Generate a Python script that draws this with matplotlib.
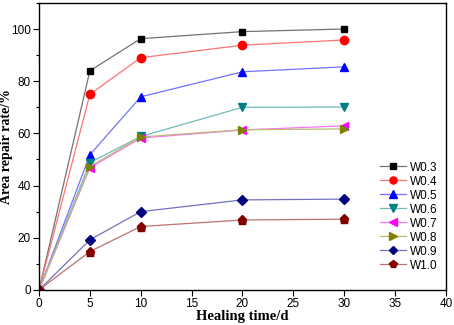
import matplotlib
matplotlib.use("Agg")
import matplotlib.pyplot as plt
from matplotlib.colors import to_rgb
from matplotlib.ticker import MultipleLocator

days = [0, 5, 10, 20, 30]
labels = ["W0.3", "W0.4", "W0.5", "W0.6", "W0.7", "W0.8", "W0.9", "W1.0"]
w03 = [0, 84.0, 96.3, 99.0, 100.0]
w04 = [0, 75.0, 89.0, 93.8, 95.8]
w05 = [0, 51.8, 74.0, 83.6, 85.5]
w06 = [0, 48.8, 58.8, 70.0, 70.1]
w07 = [0, 46.8, 58.2, 61.3, 62.9]
w08 = [0, 47.3, 58.6, 61.4, 61.7]
w09 = [0, 19.2, 30.0, 34.5, 34.8]
w10 = [0, 14.7, 24.3, 26.8, 27.1]
series = [w03, w04, w05, w06, w07, w08, w09, w10]

colors = ["#000000", "#ff0000", "#0000ff", "#008080", "#ff00ff", "#808000", "#000080", "#800000"]
markers = ["s", "o", "^", "v", "<", ">", "D", "p"]
msizes = [5, 6, 6, 6, 6, 6, 5, 6.5]

def light(c, f=0.45):
    r, g, b = to_rgb(c)
    return (r + (1 - r) * f, g + (1 - g) * f, b + (1 - b) * f)

fig = plt.figure(figsize=(4.54, 3.25), dpi=100)
ax = fig.add_axes([0.086, 0.108, 0.896, 0.883])

for y, lab, c, m, ms in zip(series, labels, colors, markers, msizes):
    ax.plot(days, y, color=light(c), lw=0.9, marker=m, ms=ms,
            mfc=c, mec=c, label=lab)

ax.set_xlim(0, 40)
ax.set_ylim(0, 110)
ax.xaxis.set_major_locator(MultipleLocator(5))
ax.yaxis.set_minor_locator(MultipleLocator(10))
ax.set_yticks([0, 20, 40, 60, 80, 100])
ax.tick_params(axis="both", which="major", direction="out", length=4, width=0.8,
               labelsize=8.5, pad=2)
ax.tick_params(axis="y", which="minor", direction="out", length=2.5, width=0.8)
for lab in ax.get_xticklabels() + ax.get_yticklabels():
    lab.set_fontfamily("Liberation Sans")
for s in ax.spines.values():
    s.set_linewidth(1.0)

ax.set_xlabel("Healing time/d", fontfamily="Liberation Serif", fontweight="bold",
              fontsize=10.5, labelpad=0)
ax.set_ylabel("Area repair rate/%", fontfamily="Liberation Serif", fontweight="bold",
              fontsize=10)
ax.yaxis.set_label_coords(-0.064, 0.5)

leg = ax.legend(loc="lower right", bbox_to_anchor=(1.0, 0.035), frameon=False,
                prop={"family": "Liberation Sans", "size": 8.5},
                handlelength=2.2, handletextpad=0.3, labelspacing=0.17,
                borderaxespad=0.3, markerscale=0.85)

fig.savefig("out.png", dpi=100)
